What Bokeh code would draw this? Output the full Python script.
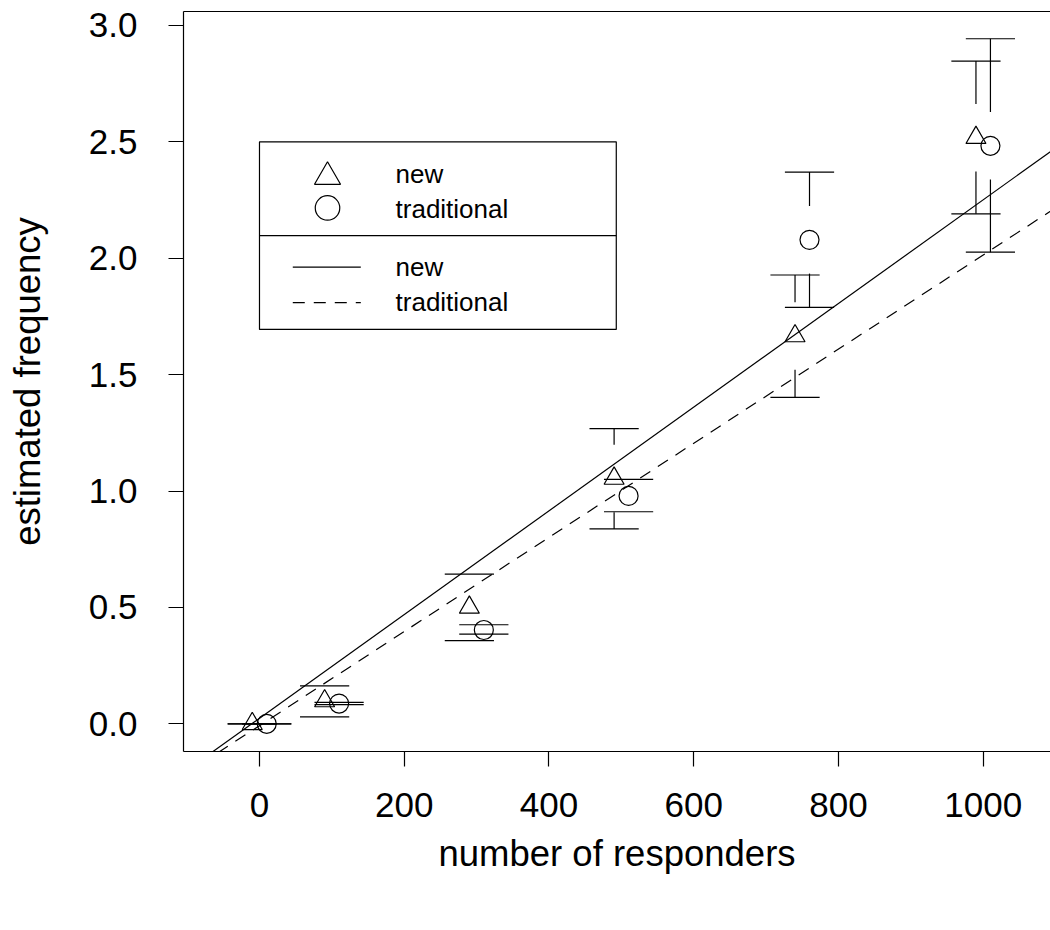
from bokeh.plotting import figure
from bokeh.models import Range1d, FixedTicker, PrintfTickFormatter, LinearAxis, ColumnDataSource
from bokeh.core.properties import value
from bokeh.embed import file_html
from bokeh.resources import INLINE

# ---- data -------------------------------------------------------------
responders = [0, 100, 300, 500, 750, 1000]

new_est = [0.0, 0.098, 0.500, 1.054, 1.666, 2.518]
new_lower = [0.0, 0.030, 0.357, 0.837, 1.402, 2.191]
new_upper = [0.0, 0.163, 0.643, 1.268, 1.928, 2.847]

trad_est = [0.0, 0.087, 0.403, 0.979, 2.079, 2.483]
trad_lower = [0.0, 0.082, 0.385, 0.911, 1.789, 2.026]
trad_upper = [0.0, 0.092, 0.4255, 1.050, 2.370, 2.943]

fit_names = ["new", "traditional"]
fit_intercept = [0.024, -0.008]
fit_slope = [0.002227, 0.002022]

x_ticks = [0, 200, 400, 600, 800, 1000]
y_ticks = [0.0, 0.5, 1.0, 1.5, 2.0, 2.5, 3.0]

# ---- styling constants ------------------------------------------------
FONT = "Liberation Sans"
X_LO, X_HI = -105, 1093
Y_LO, Y_HI = -0.119, 3.060
DODGE = 10        # horizontal offset of the two series around each x
GAP = 0.145       # empty space left above/below each point (y units)
CAP = 34          # half-width of the interval caps (x units)
LW = 1.2

p = figure(width=1050, height=930, output_backend="svg", toolbar_location=None,
           x_range=Range1d(X_LO, X_HI), y_range=Range1d(Y_LO, Y_HI),
           min_border_left=183, min_border_right=0,
           min_border_top=11, min_border_bottom=179)
p.outline_line_color = None
p.grid.visible = False
p.background_fill_color = "white"
p.border_fill_color = "white"


def style_axis(ax, ticks):
    ax.ticker = FixedTicker(ticks=ticks)
    ax.minor_tick_line_color = None
    ax.major_tick_out = 15
    ax.major_tick_in = 0
    ax.major_tick_line_color = "black"
    ax.major_tick_line_width = LW
    ax.axis_line_color = "black"
    ax.axis_line_width = LW
    ax.major_label_text_font = FONT
    ax.major_label_text_font_size = "35px"
    ax.major_label_text_color = "black"
    ax.axis_label_text_font = FONT
    ax.axis_label_text_font_size = "36.5px"
    ax.axis_label_text_font_style = "normal"
    ax.axis_label_text_color = "black"


xax = p.xaxis[0]
style_axis(xax, x_ticks)
xax.axis_label = "number of responders"
xax.major_label_standoff = 26
xax.axis_label_standoff = 13

yax = p.yaxis[0]
style_axis(yax, y_ticks)
yax.axis_label = "estimated frequency"
yax.formatter = PrintfTickFormatter(format="%.1f")
yax.major_label_standoff = 31
yax.axis_label_standoff = 38

# top edge of the box
top = LinearAxis(ticker=FixedTicker(ticks=[]), major_tick_out=0, major_tick_in=0,
                 minor_tick_out=0, minor_tick_in=0, major_label_standoff=0,
                 major_label_text_font_size="0px", axis_line_color="black",
                 axis_line_width=LW)
p.add_layout(top, "above")

# ---- fitted lines -----------------------------------------------------
dashes = ["solid", "12 9"]
for b0, b1, dash in zip(fit_intercept, fit_slope, dashes):
    p.segment(x0=[X_LO - 50], y0=[b0 + b1 * (X_LO - 50)],
              x1=[X_HI + 50], y1=[b0 + b1 * (X_HI + 50)],
              line_color="black", line_width=LW, line_dash=dash)


# ---- intervals --------------------------------------------------------
def interval_parts(xs, est, lo, hi):
    vx, vy0, vy1 = [], [], []
    cx0, cx1, cy = [], [], []
    for x, y, l, h in zip(xs, est, lo, hi):
        if h > y + GAP:
            vx.append(x); vy0.append(y + GAP); vy1.append(h)
        if l < y - GAP:
            vx.append(x); vy0.append(l); vy1.append(y - GAP)
        for c in (l, h):
            cx0.append(x - CAP); cx1.append(x + CAP); cy.append(c)
    return (dict(x=vx, y0=vy0, y1=vy1), dict(x0=cx0, x1=cx1, y=cy))


for shift, est, lo, hi, marker, size in [
        (-DODGE, new_est, new_lower, new_upper, "triangle", 20),
        (DODGE, trad_est, trad_lower, trad_upper, "circle", 19)]:
    xs = [r + shift for r in responders]
    v, c = interval_parts(xs, est, lo, hi)
    p.segment(x0="x", y0="y0", x1="x", y1="y1", source=ColumnDataSource(v),
              line_color="black", line_width=LW)
    p.segment(x0="x0", y0="y", x1="x1", y1="y", source=ColumnDataSource(c),
              line_color="black", line_width=LW)
    p.scatter(x=xs, y=est, marker=marker, size=size, fill_color=None,
              line_color="black", line_width=LW)

# ---- legend (two stacked boxes, anchored at x=0, y=2.5) ---------------
LEG_X, LEG_Y = 0, 2.5
LEG_W = 493
SEC_H = 0.403
p.quad(left=[LEG_X], right=[LEG_X + LEG_W], top=[LEG_Y], bottom=[LEG_Y - 2 * SEC_H],
       fill_color="white", line_color="black", line_width=LW)
p.segment(x0=[LEG_X], x1=[LEG_X + LEG_W], y0=[LEG_Y - SEC_H], y1=[LEG_Y - SEC_H],
          line_color="black", line_width=LW)

sym_x = LEG_X + 94
text_x = LEG_X + 188
p.scatter(x=[sym_x], y=[LEG_Y - 0.150], marker="triangle", size=26,
          fill_color=None, line_color="black", line_width=LW)
p.scatter(x=[sym_x], y=[LEG_Y - 0.284], marker="circle", size=24.5,
          fill_color=None, line_color="black", line_width=LW)
p.text(x=[text_x, text_x], y=[LEG_Y - 0.136, LEG_Y - 0.287], text=fit_names,
       text_font=value(FONT), text_font_size="26px", text_color="black",
       text_baseline="alphabetic", text_align="left")

row_y = [LEG_Y - 0.538, LEG_Y - 0.691]
for yy, dash in zip(row_y, dashes):
    p.segment(x0=[LEG_X + 46], x1=[LEG_X + 140], y0=[yy], y1=[yy],
              line_color="black", line_width=LW, line_dash=dash)
p.text(x=[text_x, text_x], y=[LEG_Y - 0.536, LEG_Y - 0.687], text=fit_names,
       text_font=value(FONT), text_font_size="26px", text_color="black",
       text_baseline="alphabetic", text_align="left")

open("out.html", "w").write(file_html(p, INLINE))
